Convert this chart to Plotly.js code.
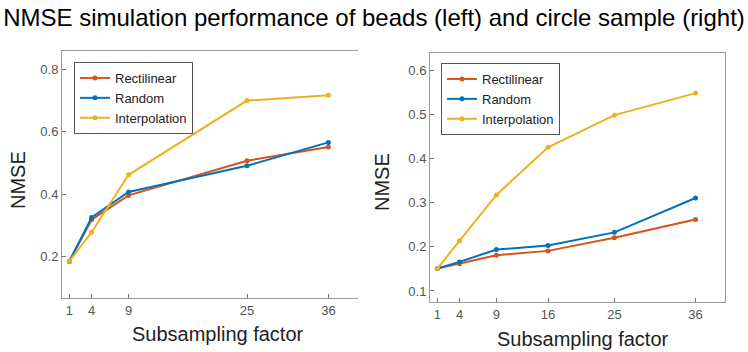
<!DOCTYPE html>
<html>
<head>
<meta charset="utf-8">
<script src="https://cdn.plot.ly/plotly-3.0.1.min.js"></script>
<style>
  html, body { margin: 0; padding: 0; background: #fff; }
  #chart { width: 748px; height: 352px; }
</style>
</head>
<body>
<div id="chart"></div>
<script>
// beads (left)
var beadsX = [1, 4, 9, 25, 36];
var beadsRect = [0.185, 0.318, 0.396, 0.507, 0.551];
var beadsRand = [0.185, 0.325, 0.407, 0.491, 0.566];
var beadsInterp = [0.185, 0.278, 0.462, 0.700, 0.717];

// circle sample (right)
var circX = [1, 4, 9, 16, 25, 36];
var circRect = [0.151, 0.162, 0.181, 0.191, 0.221, 0.262];
var circRand = [0.151, 0.166, 0.194, 0.203, 0.233, 0.311];
var circInterp = [0.151, 0.214, 0.318, 0.426, 0.499, 0.549];

var seriesNames = ['Rectilinear', 'Random', 'Interpolation'];
var colors = ['#D95319', '#0072BD', '#EDB120'];

var leftTicks = [0.2, 0.4, 0.6, 0.8];
// the right edge of the left panel carries its own tick marks (no labels)
var leftMirrorTicks = [0.104, 0.241, 0.382, 0.523, 0.662, 0.8];
var rightTicks = [0.1, 0.2, 0.3, 0.4, 0.5, 0.6];

function mk(x, y, i, xa, ya, leg) {
  return {
    x: x, y: y, name: seriesNames[i], xaxis: xa, yaxis: ya,
    type: 'scatter', mode: 'lines+markers',
    line: {color: colors[i], width: 2},
    marker: {color: colors[i], size: 5},
    showlegend: true, legend: leg
  };
}

var data = [
  mk(beadsX, beadsRect, 0, 'x', 'y', 'legend'),
  mk(beadsX, beadsRand, 1, 'x', 'y', 'legend'),
  mk(beadsX, beadsInterp, 2, 'x', 'y', 'legend'),
  mk(circX, circRect, 0, 'x2', 'y2', 'legend2'),
  mk(circX, circRand, 1, 'x2', 'y2', 'legend2'),
  mk(circX, circInterp, 2, 'x2', 'y2', 'legend2')
];

var W = 748, H = 352;
var fam = 'Liberation Sans, Arial, sans-serif';
var tickFont = {family: fam, size: 13, color: '#555'};
var ax = {
  showgrid: false, zeroline: false, showline: true, linecolor: '#999', linewidth: 1,
  mirror: true, ticks: 'inside', ticklen: 4, tickcolor: '#777', tickfont: tickFont,
  fixedrange: true
};
function merge(a, b) { return Object.assign({}, a, b); }

var legFont = {family: fam, size: 13, color: '#222'};
var titleFont = {family: fam, size: 20, color: '#222'};

var layout = {
  width: W, height: H,
  margin: {l: 0, r: 0, t: 0, b: 0},
  paper_bgcolor: '#fff', plot_bgcolor: '#fff',
  title: {
    text: 'NMSE simulation performance of beads (left) and circle sample (right)',
    x: 0.5, xanchor: 'center', y: 1 - 18 / H, yanchor: 'middle',
    font: {family: fam, size: 24, color: '#000'}
  },
  xaxis: merge(ax, {domain: [62 / W, 358 / W], range: [0, 40], tickvals: beadsX, anchor: 'y'}),
  yaxis: merge(ax, {domain: [1 - 298 / H, 1 - 51 / H], range: [0.067, 0.859], tickvals: leftTicks,
    tickformat: '.1f', anchor: 'x', mirror: false}),
  yaxis3: merge(ax, {domain: [1 - 298 / H, 1 - 51 / H], range: [0.067, 0.859], tickvals: leftMirrorTicks,
    showticklabels: false, overlaying: 'y', side: 'right', anchor: 'x', mirror: false}),
  xaxis2: merge(ax, {domain: [430 / W, 725 / W], range: [0, 40], tickvals: circX, anchor: 'y2'}),
  yaxis2: merge(ax, {domain: [1 - 302 / H, 1 - 53 / H], range: [0.075, 0.64], tickvals: rightTicks,
    tickformat: '.1f', anchor: 'x2'}),
  legend: {
    x: 74 / W, y: 1 - 62 / H, xanchor: 'left', yanchor: 'top',
    bgcolor: '#fff', bordercolor: '#555', borderwidth: 1,
    font: legFont, tracegroupgap: 0, itemwidth: 30
  },
  legend2: {
    x: 441 / W, y: 1 - 63 / H, xanchor: 'left', yanchor: 'top',
    bgcolor: '#fff', bordercolor: '#555', borderwidth: 1,
    font: legFont, tracegroupgap: 0, itemwidth: 30
  },
  annotations: [
    {text: 'Subsampling factor', xref: 'paper', yref: 'paper', x: 218 / W, y: 1 - 334 / H,
      xanchor: 'center', yanchor: 'middle', showarrow: false, font: titleFont},
    {text: 'Subsampling factor', xref: 'paper', yref: 'paper', x: 583 / W, y: 1 - 339 / H,
      xanchor: 'center', yanchor: 'middle', showarrow: false, font: titleFont},
    {text: 'NMSE', xref: 'paper', yref: 'paper', x: 18 / W, y: 1 - 180 / H,
      xanchor: 'center', yanchor: 'middle', showarrow: false, textangle: -90, font: titleFont},
    {text: 'NMSE', xref: 'paper', yref: 'paper', x: 382 / W, y: 1 - 182 / H,
      xanchor: 'center', yanchor: 'middle', showarrow: false, textangle: -90, font: titleFont}
  ]
};

Plotly.newPlot('chart', data, layout, {displayModeBar: false, staticPlot: true});
</script>
</body>
</html>
